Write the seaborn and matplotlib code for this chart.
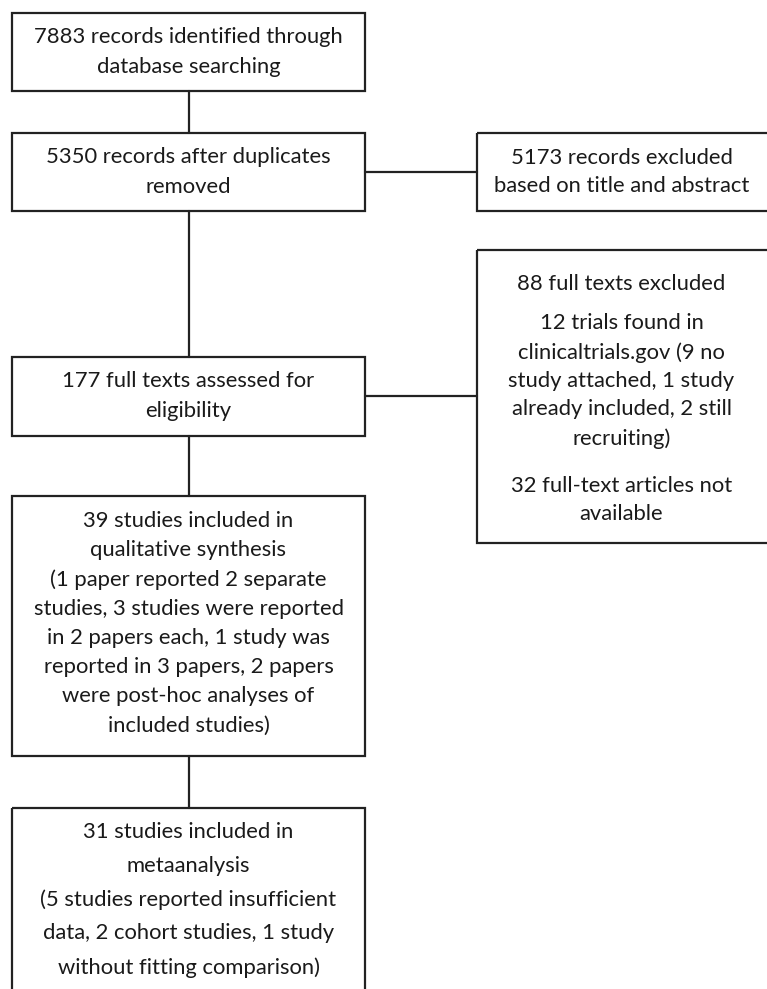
import matplotlib
matplotlib.use("Agg")
import matplotlib.pyplot as plt
import seaborn as sns
from matplotlib.patches import Rectangle

# ── Contenu du diagramme (PRISMA) ─────────────────────────
main_steps = [
    "7883 records identified through\ndatabase searching",
    "5350 records after duplicates\nremoved",
    "177 full texts assessed for\neligibility",
    "39 studies included in\nqualitative synthesis\n(1 paper reported 2 separate\n"
    "studies, 3 studies were reported\nin 2 papers each, 1 study was\n"
    "reported in 3 papers, 2 papers\nwere post-hoc analyses of\nincluded studies)",
    "31 studies included in\nmetaanalysis\n(5 studies reported insufficient\n"
    "data, 2 cohort studies, 1 study\nwithout fitting comparison)",
]
excluded_steps = [
    ["5173 records excluded\nbased on title and abstract"],
    ["88 full texts excluded",
     "12 trials found in\nclinicaltrials.gov (9 no\nstudy attached, 1 study\n"
     "already included, 2 still\nrecruiting)",
     "32 full-text articles not\navailable"],
]

# ── Mise en page (pixels) ─────────────────────────────────
W, H = 767, 989
main_x = (12, 365)
main_y = [(13, 91), (133, 211), (357, 436), (496, 756), (808, 1000)]
main_text_y = [52, 172, 396, 623, 900]
main_spacing = [1.62, 1.58, 1.58, 1.57, 1.83]
side_x = (477, 770)
side_y = [(133, 211), (250, 543)]
side_link_y = [172, 396]
side_text_y = [[172], [284, 381, 500]]

sns.set_theme(style="white")
plt.rcParams["font.family"] = ["Lato", "DejaVu Sans"]

fig = plt.figure(figsize=(W / 100, H / 100), dpi=100)
ax = fig.add_axes([0, 0, 1, 1])
ax.set_xlim(0, W)
ax.set_ylim(H, 0)
ax.axis("off")

lw = 1.6
col = "#222222"
fs = 15.8
cx = (main_x[0] + main_x[1]) / 2

for i, (label, (y0, y1)) in enumerate(zip(main_steps, main_y)):
    ax.add_patch(Rectangle((main_x[0], y0), main_x[1] - main_x[0], y1 - y0,
                           fill=False, ec=col, lw=lw))
    ax.text(cx, main_text_y[i], label, ha="center", va="center",
            fontsize=fs, color="#1a1a1a", linespacing=main_spacing[i])
    if i > 0:
        ax.plot([cx, cx], [main_y[i - 1][1], y0], color=col, lw=lw)

scx = (side_x[0] + side_x[1] - 4) / 2
for j, paras in enumerate(excluded_steps):
    y0, y1 = side_y[j]
    ax.add_patch(Rectangle((side_x[0], y0), side_x[1] - side_x[0], y1 - y0,
                           fill=False, ec=col, lw=lw))
    ax.plot([main_x[1], side_x[0]], [side_link_y[j]] * 2, color=col, lw=lw)
    for para, ty in zip(paras, side_text_y[j]):
        ax.text(scx, ty, para, ha="center", va="center",
                fontsize=fs, color="#1a1a1a", linespacing=1.52)

fig.savefig("out.png", dpi=100)
